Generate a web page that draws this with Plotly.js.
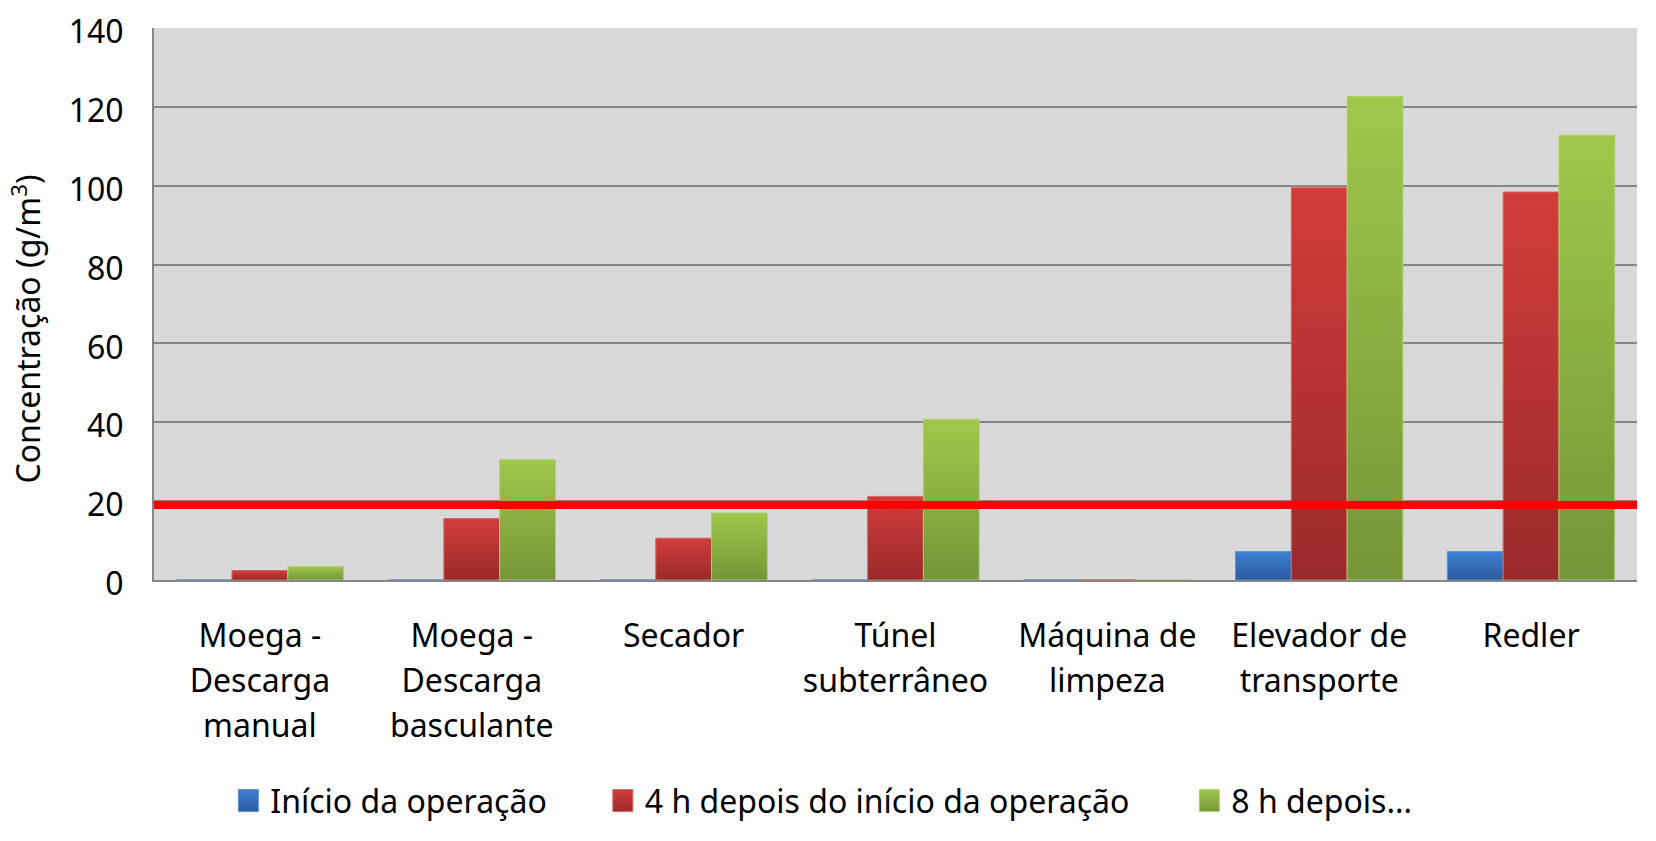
<!DOCTYPE html>
<html>
<head>
<meta charset="utf-8">
<script src="https://cdn.plot.ly/plotly-3.0.1.min.js"></script>
<style>
  html, body { margin: 0; padding: 0; background: #ffffff; }
  #plot { width: 1656px; height: 841px; }
</style>
</head>
<body>
<div id="plot"></div>
<script>
// categories (x axis)
let locais = [
    "Moega -<br>Descarga<br>manual",
    "Moega -<br>Descarga<br>basculante",
    "Secador",
    "Túnel<br>subterrâneo",
    "Máquina de<br>limpeza",
    "Elevador de<br>transporte",
    "Redler"
];

// series values (g/m3)
let inicio = [0, 0, 0, 0, 0, 7.2, 7.2];
let depois4h = [2.4, 15.6, 10.6, 21.2, 0, 99.5, 98.4];
let depois8h = [3.4, 30.5, 17, 40.8, 0, 122.6, 112.8];

// series names
let nomes = ["Início da operação", "4 h depois do início da operação", "8 h depois..."];

// reference limit line (red)
let limite = 19;

// y axis ticks
let yTicks = [0, 20, 40, 60, 80, 100, 120, 140];

let fonte = "Noto Sans, Open Sans, sans-serif";

let traceInicio = {
    x: locais,
    y: inicio,
    name: nomes[0],
    type: "bar",
    legend: "legend",
    marker: {color: "#3671bf", line: {color: "#5f8fd0", width: 1}}
};

let trace4h = {
    x: locais,
    y: depois4h,
    name: nomes[1],
    type: "bar",
    legend: "legend2",
    marker: {color: "#bb3535", line: {color: "#d66464", width: 1}}
};

let trace8h = {
    x: locais,
    y: depois8h,
    name: nomes[2],
    type: "bar",
    legend: "legend3",
    marker: {color: "#8bae42", line: {color: "#afd06a", width: 1}}
};

let data = [traceInicio, trace4h, trace8h];

// one legend per series so the items sit where the original has them
function legenda(xpos) {
    return {
        orientation: "h",
        x: xpos,
        xanchor: "left",
        y: -0.40,
        yanchor: "middle",
        font: {family: fonte, size: 32},
        itemwidth: 30,
        bgcolor: "rgba(0,0,0,0)"
    };
}

let layout = {
    width: 1656,
    height: 841,
    paper_bgcolor: "#ffffff",
    plot_bgcolor: "#d9d9d9",
    barmode: "group",
    bargap: 0.21,
    bargroupgap: 0,
    font: {family: fonte, size: 32, color: "#000000"},
    margin: {l: 154, r: 19, t: 28, b: 257, pad: 0},
    showlegend: true,
    legend: legenda(0.0515),
    legend2: legenda(0.304),
    legend3: legenda(0.6995),
    xaxis: {
        automargin: false,
        showgrid: false,
        showline: true,
        linecolor: "#868686",
        linewidth: 2,
        ticks: "",
        ticklabelstandoff: 27,
        tickfont: {family: fonte, size: 32},
        fixedrange: true
    },
    yaxis: {
        automargin: false,
        title: {text: "Concentração (g/m<sup>3</sup>)", font: {family: fonte, size: 32}, standoff: 14},
        range: [0, 140],
        tickvals: yTicks,
        showgrid: true,
        gridcolor: "#868686",
        gridwidth: 2,
        zeroline: false,
        showline: true,
        linecolor: "#868686",
        linewidth: 2,
        ticks: "",
        ticklabelstandoff: 22,
        tickfont: {family: fonte, size: 32},
        fixedrange: true
    },
    shapes: [{
        type: "line",
        xref: "paper",
        x0: 0,
        x1: 1,
        yref: "y",
        y0: limite,
        y1: limite,
        line: {color: "#ff0000", width: 8},
        layer: "above"
    }]
};

Plotly.newPlot("plot", data, layout, {staticPlot: true}).then(function (gd) {
    // vertical gradients on the bars, like the original chart
    let svgNS = "http://www.w3.org/2000/svg";
    let svg = gd.querySelector("svg.main-svg");
    let defs = svg.querySelector("defs");
    let grads = [
        ["gradB", "#3c80d3", "#2b5b9f"],
        ["gradR", "#d23d3b", "#9a2a2a"],
        ["gradG", "#9fc84b", "#759538"]
    ];
    grads.forEach(function (g) {
        let lg = document.createElementNS(svgNS, "linearGradient");
        lg.setAttribute("id", g[0]);
        lg.setAttribute("x1", "0"); lg.setAttribute("y1", "0");
        lg.setAttribute("x2", "0"); lg.setAttribute("y2", "1");
        let s1 = document.createElementNS(svgNS, "stop");
        s1.setAttribute("offset", "0"); s1.setAttribute("stop-color", g[1]);
        let s2 = document.createElementNS(svgNS, "stop");
        s2.setAttribute("offset", "1"); s2.setAttribute("stop-color", g[2]);
        lg.appendChild(s1); lg.appendChild(s2);
        defs.appendChild(lg);
    });
    gd.querySelectorAll(".barlayer .trace.bars").forEach(function (tr, i) {
        tr.querySelectorAll("path").forEach(function (p) {
            p.style.fill = "url(#" + grads[i][0] + ")";
        });
    });
    // legend swatches: bigger squares, closer to the text, same gradient
    ["legend", "legend2", "legend3"].forEach(function (cls, i) {
        gd.querySelectorAll("g." + cls + " .legendpoints path").forEach(function (p) {
            p.style.fill = "url(#" + grads[i][0] + ")";
            p.setAttribute("d", "M-10,-11H10V11H-10Z");
            p.setAttribute("transform", "translate(18,0)");
        });
    });
    // x labels: a little more space between lines (dy counts from the first line)
    gd.querySelectorAll(".xtick text").forEach(function (txt) {
        let linhas = txt.querySelectorAll("tspan.line");
        linhas.forEach(function (t, k) {
            if (k > 0) t.setAttribute("dy", (k * 1.4).toFixed(2) + "em");
        });
    });
    // y labels sit a few pixels below their gridline in the original
    let ylab = gd.querySelector(".yaxislayer-above");
    if (ylab) ylab.setAttribute("transform", "translate(0,4)");
    // axis title sits a bit lower
    let yt = gd.querySelector(".ytitle");
    if (yt) {
        yt.setAttribute("transform", "translate(-4,25) " + (yt.getAttribute("transform") || ""));
    }
});
</script>
</body>
</html>
